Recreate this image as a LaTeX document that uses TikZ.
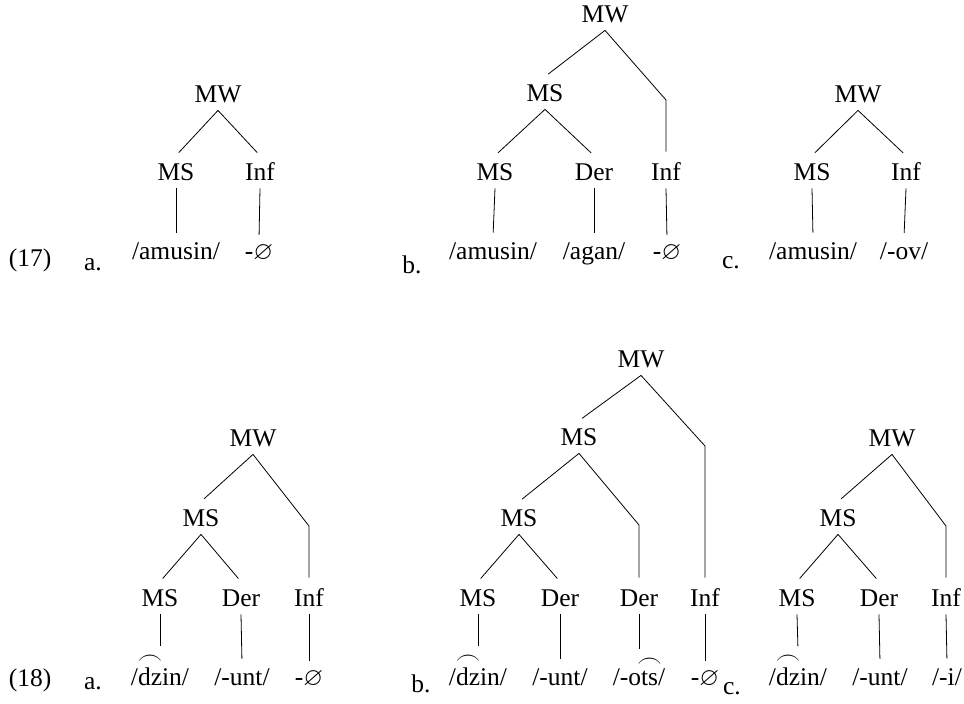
\documentclass[tikz,border=0pt]{standalone}
\usepackage{amssymb}
\usepackage{fontspec}
\setmainfont{Liberation Serif}
\usepackage{tikz}
\newcommand{\tiebar}[1]{\leavevmode\setbox0\hbox{#1}\rlap{\raisebox{\dimexpr\ht0+3pt\relax}{\hbox to\wd0{\hss$\frown$\hss}}}\box0}
\tikzset{
  cat/.style={
    inner xsep=0pt,
    inner ysep=7.5pt,
    text height=17pt,
    text depth=0pt
  },
  word/.style={
    anchor=base,
    inner xsep=0pt,
    inner ysep=5pt
  },
  branch/.style={
    shorten >=4pt
  }
}
\begin{document}
\begin{tikzpicture} [x=1pt, y=-1pt, line width=0.8pt,
  font=\fontsize{25.5}{30}\selectfont]%[y grows downward]
 \useasboundingbox (0,0) rectangle (964,704);
 % (17)
 \node[word] (ex_17) at (30,266) {(17)};
 \node[word] (lbl_17a) at (93,270) {a.};
 \node[cat] (mw_17a) at (218,94) {MW};
 \node[cat] (ms_17a) at (176,172) {MS};
 \node[cat] (inf_17a) at (260,172) {Inf};
 \node[word] (amusin_17a) at (176,259) {/amusin/};
 \node[word] (null_17a) at (259,259) {-$\varnothing$};
 \path[branch]
  (mw_17a.south) edge (ms_17a.north)
  (mw_17a.south) edge (inf_17a.north)
  (ms_17a.south) edge (amusin_17a.north)
  (inf_17a.south) edge (null_17a.north);

 \node[word] (lbl_17b) at (412,273) {b.};
 \node[cat] (mw_17b) at (605,14) {MW};
 \node[cat] (ms_17b) at (545,93) {MS};
 \node[cat] (msl_17b) at (495,172) {MS};
 \node[cat] (der_17b) at (594,172) {Der};
 \node[cat] (inf_17b) at (666,172) {Inf};
 \coordinate (bend_17b) at (666,100);
 \node[word] (amusin_17b) at (493,259) {/amusin/};
 \node[word] (agan_17b) at (594,259) {/agan/};
 \node[word] (null_17b) at (667,259) {-$\varnothing$};
 \path[branch]
  (mw_17b.south) edge (ms_17b.north)
  (ms_17b.south) edge (msl_17b.north)
  (ms_17b.south) edge (der_17b.north)
  (msl_17b.south) edge (amusin_17b.north)
  (der_17b.south) edge (agan_17b.north)
  (inf_17b.south) edge (null_17b.north);
 \draw[branch] (mw_17b.south) -- (bend_17b) -- (inf_17b.north);

 \node[word] (lbl_17c) at (731,268) {c.};
 \node[cat] (mw_17c) at (858,94) {MW};
 \node[cat] (ms_17c) at (812,172) {MS};
 \node[cat] (inf_17c) at (906,172) {Inf};
 \node[word] (amusin_17c) at (813,259) {/amusin/};
 \node[word] (ov_17c) at (904,259) {/-ov/};
 \path[branch]
  (mw_17c.south) edge (ms_17c.north)
  (mw_17c.south) edge (inf_17c.north)
  (ms_17c.south) edge (amusin_17c.north)
  (inf_17c.south) edge (ov_17c.north);

 % (18)
 \node[word] (ex_18) at (30,686) {(18)};
 \node[word] (lbl_18a) at (93,689) {a.};
 \node[cat] (mw_18a) at (253,438) {MW};
 \node[cat] (ms_18a) at (201,518) {MS};
 \node[cat] (msl_18a) at (160,598) {MS};
 \node[cat] (der_18a) at (241,598) {Der};
 \node[cat] (inf_18a) at (309,598) {Inf};
 \coordinate (bend_18a) at (309,526);
 \node[word] (dzin_18a) at (160,685) {/\tiebar{dz}in/};
 \node[word] (unt_18a) at (242,685) {/-unt/};
 \node[word] (null_18a) at (309,685) {-$\varnothing$};
 \path[branch]
  (mw_18a.south) edge (ms_18a.north)
  (ms_18a.south) edge (msl_18a.north)
  (ms_18a.south) edge (der_18a.north)
  (msl_18a.south) edge (dzin_18a.north)
  (der_18a.south) edge (unt_18a.north)
  (inf_18a.south) edge (null_18a.north);
 \draw[branch] (mw_18a.south) -- (bend_18a) -- (inf_18a.north);

 \node[word] (lbl_18b) at (421,692) {b.};
 \node[cat] (mw_18b) at (641,359) {MW};
 \node[cat] (ms_18b) at (579,437) {MS};
 \node[cat] (msm_18b) at (519,518) {MS};
 \node[cat] (msl_18b) at (478,598) {MS};
 \node[cat] (der_18b) at (560,598) {Der};
 \node[cat] (derr_18b) at (639,598) {Der};
 \node[cat] (inf_18b) at (705,598) {Inf};
 \coordinate (bend_18b) at (705,446);
 \coordinate (bendd_18b) at (639,525);
 \node[word] (dzin_18b) at (478,685) {/\tiebar{dz}in/};
 \node[word] (unt_18b) at (560,685) {/-unt/};
 \node[word] (ots_18b) at (639,685) {/-o\tiebar{ts}/};
 \node[word] (null_18b) at (705,685) {-$\varnothing$};
 \path[branch]
  (mw_18b.south) edge (ms_18b.north)
  (ms_18b.south) edge (msm_18b.north)
  (msm_18b.south) edge (msl_18b.north)
  (msm_18b.south) edge (der_18b.north)
  (msl_18b.south) edge (dzin_18b.north)
  (der_18b.south) edge (unt_18b.north)
  (derr_18b.south) edge (ots_18b.north)
  (inf_18b.south) edge (null_18b.north);
 \draw[branch] (mw_18b.south) -- (bend_18b) -- (inf_18b.north);
 \draw[branch] (ms_18b.south) -- (bendd_18b) -- (derr_18b.north);

 \node[word] (lbl_18c) at (732,694) {c.};
 \node[cat] (mw_18c) at (892,438) {MW};
 \node[cat] (ms_18c) at (838,518) {MS};
 \node[cat] (msl_18c) at (797,598) {MS};
 \node[cat] (der_18c) at (879,598) {Der};
 \node[cat] (inf_18c) at (946,598) {Inf};
 \coordinate (bend_18c) at (946,526);
 \node[word] (dzin_18c) at (798,685) {/\tiebar{dz}in/};
 \node[word] (unt_18c) at (880,685) {/-unt/};
 \node[word] (i_18c) at (947,685) {/-i/};
 \path[branch]
  (mw_18c.south) edge (ms_18c.north)
  (ms_18c.south) edge (msl_18c.north)
  (ms_18c.south) edge (der_18c.north)
  (msl_18c.south) edge (dzin_18c.north)
  (der_18c.south) edge (unt_18c.north)
  (inf_18c.south) edge (i_18c.north);
 \draw[branch] (mw_18c.south) -- (bend_18c) -- (inf_18c.north);
\end{tikzpicture}
\end{document}
